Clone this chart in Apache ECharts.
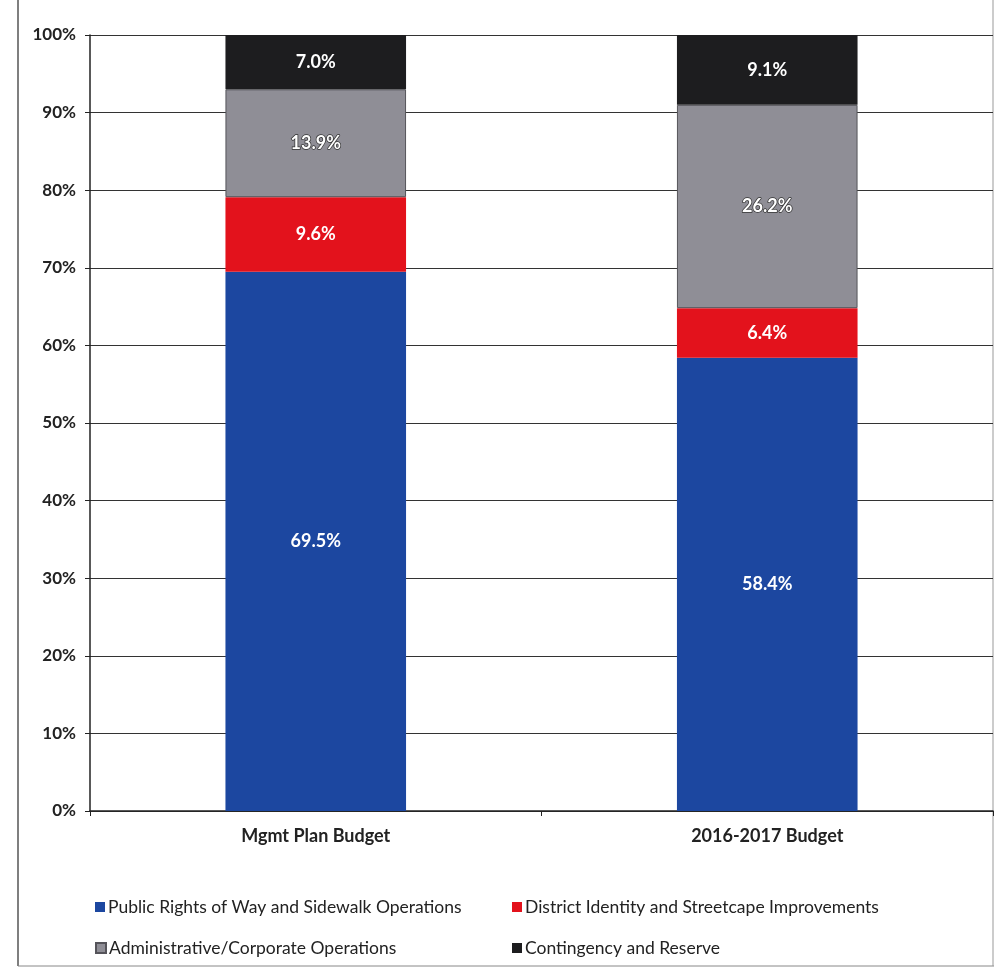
<!DOCTYPE html>
<html>
<head>
<meta charset="utf-8">
<script src="https://cdn.jsdelivr.net/npm/echarts@6/dist/echarts.min.js"></script>
<style>html,body{margin:0;padding:0;background:#fff;}#c{width:994px;height:969px;}</style>
</head>
<body>
<div id="c"></div>
<script>
var categories = ['Mgmt Plan Budget', '2016-2017 Budget'];
var seriesNames = ['Public Rights of Way and Sidewalk Operations', 'District Identity and Streetcape Improvements', 'Administrative/Corporate Operations', 'Contingency and Reserve'];
var publicRights = [69.5, 58.4];
var districtIdentity = [9.6, 6.4];
var administrative = [13.9, 26.2];
var contingency = [7.0, 9.1];
var yTicks = [0, 10, 20, 30, 40, 50, 60, 70, 80, 90, 100];

var colors = ['#1c47a0', '#e3121c', '#8f8e96', '#1d1d1f'];
var valuesList = [publicRights, districtIdentity, administrative, contingency];
var font = 'Lato, "Open Sans", sans-serif';

var series = seriesNames.map(function (n, i) {
  return {
    name: n,
    type: 'bar',
    stack: 'total',
    barWidth: '40%',
    data: valuesList[i],
    itemStyle: { color: colors[i], borderColor: i === 2 ? '#55545a' : colors[i], borderWidth: i === 2 ? 1 : 0 },
    label: {
      show: true,
      position: 'inside',
      formatter: function (p) { return p.value.toFixed(1) + '%'; },
      color: '#fff',
      fontFamily: font,
      fontWeight: 'bold',
      fontSize: 18,
      textBorderColor: i === 2 ? '#333' : 'transparent',
      textBorderWidth: i === 2 ? 1.5 : 0
    }
  };
});

var legendPos = [[90, 893], [507, 893], [90, 934], [507, 934]];
var legends = seriesNames.map(function (n, i) {
  return {
    data: [n],
    left: legendPos[i][0],
    top: legendPos[i][1],
    itemWidth: 10,
    itemHeight: 10,
    itemGap: 6,
    icon: 'rect',
    selectedMode: false,
    textStyle: { fontFamily: font, fontSize: 17.5, color: '#222', padding: [0, 0, 0, -2] }
  };
});

var chart = echarts.init(document.getElementById('c'));
chart.setOption({
  animation: false,
  backgroundColor: '#fff',
  grid: { left: 90, right: 1, top: 35, bottom: 158, containLabel: false },
  legend: legends,
  xAxis: {
    type: 'category',
    data: categories,
    axisLine: { lineStyle: { color: '#222', width: 1.5 } },
    axisTick: { show: true, length: 5, lineStyle: { color: '#222' } },
    axisLabel: { fontFamily: font, fontWeight: 'bold', fontSize: 18, color: '#222', margin: 16 }
  },
  yAxis: {
    type: 'value',
    min: 0,
    max: 100,
    interval: 10,
    axisLine: { show: true, lineStyle: { color: '#222', width: 1.5 } },
    axisTick: { show: true, length: 5, lineStyle: { color: '#222' } },
    splitLine: { lineStyle: { color: '#333', width: 1.2 } },
    axisLabel: {
      fontFamily: font, fontWeight: 'bold', fontSize: 17, color: '#222', margin: 14,
      formatter: function (v) { return yTicks.indexOf(v) >= 0 ? v + '%' : ''; }
    }
  },
  graphic: [
    { type: 'line', shape: { x1: 18, y1: 0, x2: 18, y2: 966 }, style: { stroke: '#555', lineWidth: 1.5 } },
    { type: 'line', shape: { x1: 18, y1: 966, x2: 994, y2: 966 }, style: { stroke: '#888', lineWidth: 1 } },
    { type: 'line', shape: { x1: 993, y1: 0, x2: 993, y2: 966 }, style: { stroke: '#999', lineWidth: 1 } }
  ],
  series: series
});
</script>
</body>
</html>
